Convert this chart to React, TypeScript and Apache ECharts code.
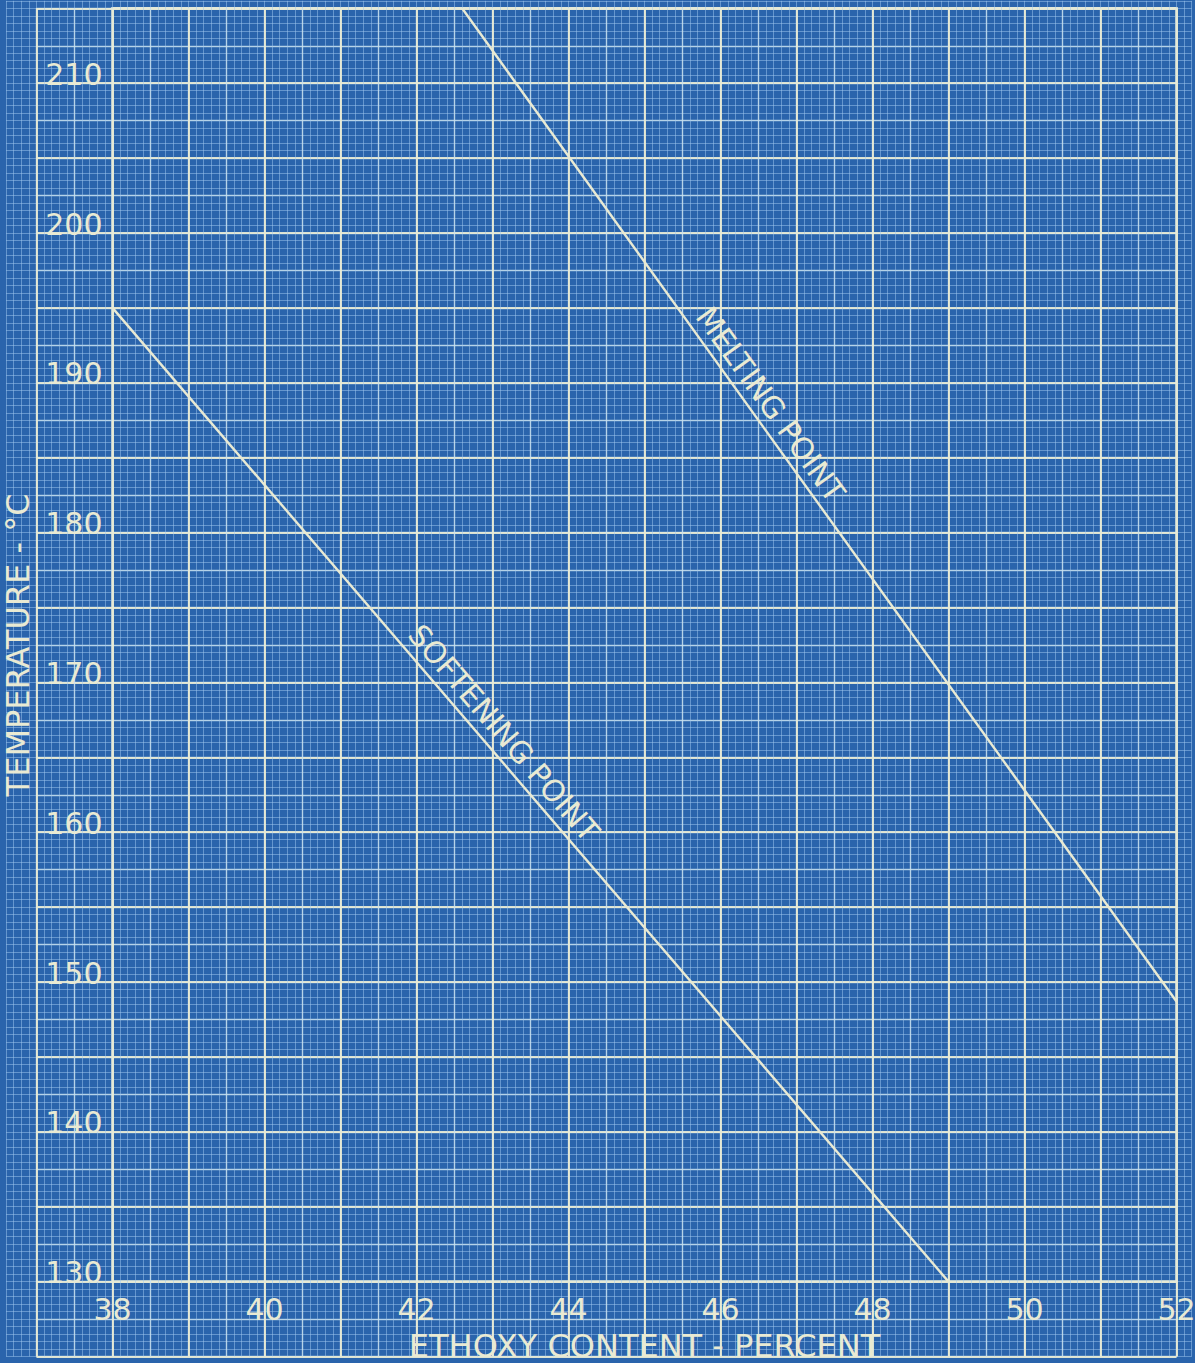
import React, { useEffect, useRef } from "react";
import * as echarts from "echarts";

// ---- data ----
const meltingEthoxy = [42.6, 52.0];
const meltingTemp = [215.0, 148.7];
const softeningEthoxy = [38.0, 49.0];
const softeningTemp = [195.0, 130.0];

const xRange = [38, 52];
const xStep = 2;
const yRange = [130, 215];
const yStep = 10;

const xTitle = "ETHOXY CONTENT - PERCENT";
const yTitle = "TEMPERATURE - °C";
const meltingName = "MELTING POINT";
const softeningName = "SOFTENING POINT";

// ---- styles ----
const W = 1195;
const H = 1363;
const BG = "#2a64ac";
const CREAM = "#e9ead3";
const FONT = "DejaVu Sans";
const PX_X = 76; // px per percent
const PX_Y = 14.98; // px per degree
const FRAME_LEFT = 112.5;
const FRAME_TOP = 8.3;

// pixel helpers for laying out the graph-paper grids
const pxX = (v: number) => FRAME_LEFT + (v - xRange[0]) * PX_X;
const pxY = (v: number) => FRAME_TOP + (yRange[1] - v) * PX_Y;

export default function App() {
  const ref = useRef<HTMLDivElement>(null);

  useEffect(() => {
    if (!ref.current) return;
    const chart = echarts.init(ref.current, null, { renderer: "svg", width: W, height: H });

    // graph paper extents (kept inside the canvas)
    const minorX = [36.6, 52.2];
    const minorY = [125, 215.5];
    const mainX = [37, 52];
    const mainY = [125, 215];

    const minorLine = { lineStyle: { color: "rgba(160,200,240,0.5)", width: 1 } };
    const mediumLine = { lineStyle: { color: "rgba(205,228,240,0.78)", width: 1.4 } };
    const majorLine = { lineStyle: { color: "rgba(232,234,212,0.92)", width: 2 } };

    const hidden = {
      axisLine: { show: false },
      axisTick: { show: false },
      axisLabel: { show: false },
    };

    const gridOf = (xs: number[], ys: number[]) => ({
      left: pxX(xs[0]),
      top: pxY(ys[1]),
      width: (xs[1] - xs[0]) * PX_X,
      height: (ys[1] - ys[0]) * PX_Y,
      containLabel: false,
      outerBoundsMode: "none",
    });

    const option: any = {
      animation: false,
      backgroundColor: BG,
      grid: [
        gridOf(minorX, minorY),
        gridOf(mainX, mainY),
        {
          ...gridOf(xRange, yRange),
          show: true,
          borderColor: CREAM,
          borderWidth: 2.5,
          backgroundColor: "transparent",
        },
      ],
      xAxis: [
        {
          type: "value", gridIndex: 0, min: minorX[0], max: minorX[1], interval: 0.1,
          ...hidden, splitLine: { show: true, ...minorLine },
        },
        {
          type: "value", gridIndex: 1, min: mainX[0], max: mainX[1], interval: 0.5,
          ...hidden, splitLine: { show: true, ...mediumLine },
        },
        {
          type: "value", gridIndex: 1, min: mainX[0], max: mainX[1], interval: 1,
          ...hidden, splitLine: { show: true, ...majorLine },
        },
        {
          type: "value", gridIndex: 2, min: xRange[0], max: xRange[1], interval: xStep,
          axisLine: { show: false },
          axisTick: { show: false },
          splitLine: { show: false },
          axisLabel: {
            show: true, color: CREAM, fontFamily: FONT, fontSize: 30, margin: 13,
          },
          name: xTitle,
          nameLocation: "middle",
          nameGap: 45,
          nameTextStyle: { color: CREAM, fontFamily: FONT, fontSize: 32, verticalAlign: "top" },
        },
      ],
      yAxis: [
        {
          type: "value", gridIndex: 0, min: minorY[0], max: minorY[1], interval: 0.5,
          ...hidden, splitLine: { show: true, ...minorLine },
        },
        {
          type: "value", gridIndex: 1, min: mainY[0], max: mainY[1], interval: 2.5,
          ...hidden, splitLine: { show: true, ...mediumLine },
        },
        {
          type: "value", gridIndex: 1, min: mainY[0], max: mainY[1], interval: 5,
          ...hidden, splitLine: { show: true, ...majorLine },
        },
        {
          type: "value", gridIndex: 2, min: yRange[0], max: yRange[1], interval: yStep,
          axisLine: { show: false },
          axisTick: { show: false },
          splitLine: { show: false },
          axisLabel: {
            show: true, color: CREAM, fontFamily: FONT, fontSize: 30, margin: 10,
            showMaxLabel: false,
            verticalAlign: "bottom",
            lineHeight: 18,
          },
          name: yTitle,
          nameLocation: "middle",
          nameGap: 74,
          nameRotate: 90,
          nameTextStyle: { color: CREAM, fontFamily: FONT, fontSize: 32 },
        },
      ],
      series: [
        {
          name: meltingName,
          type: "line",
          xAxisIndex: 3, yAxisIndex: 3,
          data: meltingEthoxy.map((x, i) => [x, meltingTemp[i]]),
          symbol: "none",
          lineStyle: { color: CREAM, width: 2.4 },
          z: 5,
        },
        {
          name: softeningName,
          type: "line",
          xAxisIndex: 3, yAxisIndex: 3,
          data: softeningEthoxy.map((x, i) => [x, softeningTemp[i]]),
          symbol: "none",
          lineStyle: { color: CREAM, width: 2.4 },
          z: 5,
        },
      ],
    };

    chart.setOption(option);

    // labels along the curves, positioned through the chart's own scales
    const along = (seriesIndex: number, xs: number[], ys: number[], t: number, d: number, text: string) => {
      const p0 = chart.convertToPixel({ seriesIndex }, [xs[0], ys[0]]) as number[];
      const p1 = chart.convertToPixel({ seriesIndex }, [xs[1], ys[1]]) as number[];
      const dx = p1[0] - p0[0];
      const dy = p1[1] - p0[1];
      const len = Math.hypot(dx, dy);
      const nx = dy / len;
      const ny = -dx / len;
      return {
        type: "text",
        x: p0[0] + dx * t + nx * d,
        y: p0[1] + dy * t + ny * d,
        rotation: -Math.atan2(dy, dx),
        z: 10,
        style: {
          text,
          fill: CREAM,
          font: `30px "${FONT}"`,
          textAlign: "center",
          textVerticalAlign: "middle",
        },
      };
    };

    chart.setOption({
      graphic: [
        along(0, meltingEthoxy, meltingTemp, 0.41, 19, meltingName),
        along(1, softeningEthoxy, softeningTemp, 0.45, 20, softeningName),
      ],
    });

    return () => chart.dispose();
  }, []);

  return (
    <div
      ref={ref}
      style={{ position: "absolute", left: 0, top: 0, width: W, height: H }}
    />
  );
}
